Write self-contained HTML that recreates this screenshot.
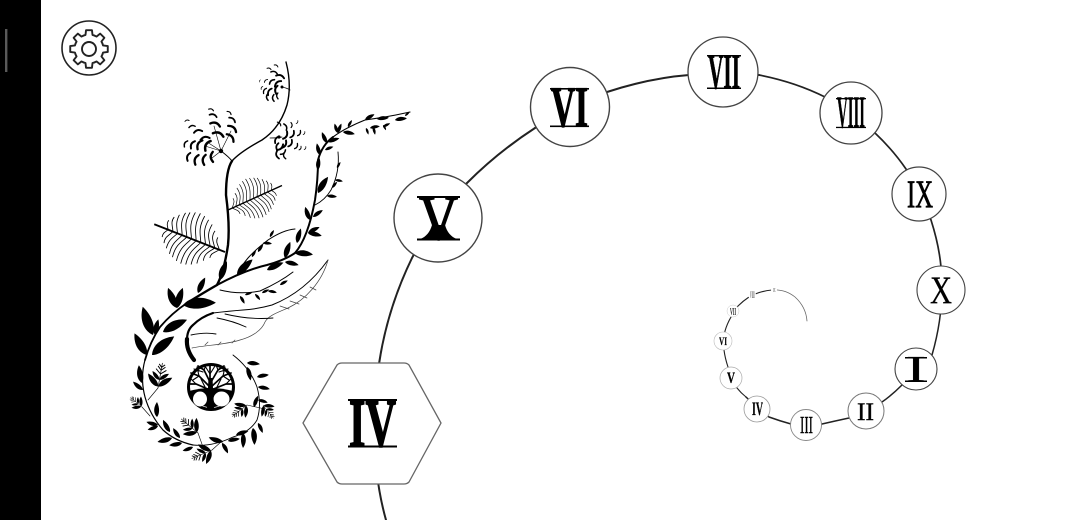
<!DOCTYPE html>
<html><head><meta charset="utf-8"><style>
html,body{margin:0;padding:0;background:#fff}
svg{display:block}
.n{font-family:"Liberation Serif",serif;font-weight:bold;fill:#000;stroke:#000}
.r{font-weight:normal}
</style></head><body>
<svg width="1080" height="520" viewBox="0 0 1080 520" xmlns="http://www.w3.org/2000/svg">
<defs>
<path id="l" d="M0 0C.2 -.22 .6 -.28 1 0C.6 .2 .2 .17 0 0Z" fill="#000"/>
<path id="g" d="M13.4 -5.55L14.07 -3.51L18.77 -2.97L18.77 2.97L14.07 3.51L13.4 5.55" fill="none" stroke="#222" stroke-width="1.9" stroke-linejoin="round" stroke-linecap="round"/>
<path id="c" d="M2 -3.8Q-3.2 -2 -2 3.6" fill="none" stroke="#000" stroke-width="1.9" stroke-linecap="round"/>
<g id="fern" fill="none" stroke="#000" stroke-width=".85">
<path d="M0 0L76 0" stroke-width="1.8"/>
<path d="M6 0c3 -4 7 -6 6 -11M11 0c3 -5 8 -8 6 -16M16 0c3 -6 8 -9 6 -21M21 0c3 -7 8 -11 6 -24M26 0c3 -7 8 -12 6 -26M31 0c3 -7 8 -13 6 -27M36 0c3 -7 8 -12 6 -26M41 0c3 -7 8 -11 6 -24M46 0c3 -7 7 -11 5 -22M51 0c3 -6 6 -9 5 -18M56 0c2 -5 6 -8 4 -14M61 0c2 -3 4 -5 3 -9"/>
<path d="M6 0c3 4 7 6 6 11M11 0c3 5 8 8 6 16M16 0c3 6 8 9 6 21M21 0c3 7 8 11 6 24M26 0c3 7 8 12 6 26M31 0c3 7 8 13 6 27M36 0c3 7 8 12 6 26M41 0c3 7 8 11 6 24M46 0c3 7 7 11 5 22M51 0c3 6 6 9 5 18M56 0c2 5 6 8 4 14M61 0c2 3 4 5 3 9"/>
</g>
<g id="fb">
<path d="M0 0L34 0" fill="none" stroke="#000" stroke-width=".9"/>
<use href="#l" transform="translate(2 0) rotate(-48) scale(22)"/>
<use href="#l" transform="translate(2 0) rotate(48) scale(22)"/>
<use href="#l" transform="translate(11 0) rotate(-48) scale(15)"/>
<use href="#l" transform="translate(11 0) rotate(48) scale(15)"/>
<path d="M19 0l6 -7M19 0l6 7M24 0l5 -5M24 0l5 5M28 0l4 -4M28 0l4 4" fill="none" stroke="#000" stroke-width="1.3"/>
</g>
</defs>
<rect width="1080" height="520" fill="#fff"/>
<rect x="0" y="0" width="41" height="520" fill="#000"/>
<rect x="5" y="29" width="2.4" height="43" fill="#5a5a5a"/>

<!-- gear -->
<circle cx="89" cy="48" r="27" fill="none" stroke="#222" stroke-width="1.6"/>
<g transform="translate(89 49)">
<use href="#g"/><use href="#g" transform="rotate(45)"/><use href="#g" transform="rotate(90)"/><use href="#g" transform="rotate(135)"/><use href="#g" transform="rotate(180)"/><use href="#g" transform="rotate(225)"/><use href="#g" transform="rotate(270)"/><use href="#g" transform="rotate(315)"/>
<circle r="7" fill="none" stroke="#222" stroke-width="1.9"/>
</g>

<!-- plant stems -->
<g fill="none" stroke="#000" stroke-linecap="round">
<path d="M233 355Q250 368 257 387Q262 405 257 420Q250 432 233 437Q212 447 193 445" stroke-width=".9"/>
<path d="M193 445Q175 441 163 430Q150 415 145 397Q140 378 145 360" stroke-width="1.2"/>
<path d="M145 360Q150 342 160 327Q172 313 187 303" stroke-width="1.8"/>
<path d="M187 303Q203 293 217 285Q224 272 228 245Q230 225 226 195Q226 170 232 161" stroke-width="2.4"/>
<path d="M232 161Q240 152 262 140Q280 128 287 105Q292 85 286 62" stroke-width="1.4"/>
<path d="M232 161Q229 157 221 151" stroke-width="1"/>
<path d="M217 285Q245 270 267 265Q285 260 295 253Q308 238 315 200Q318 180 318 160Q322 145 333 137" stroke-width="2"/>
<path d="M333 137Q345 128 365 120Q388 117 410 112" stroke-width="1.1"/>
<path d="M315 205Q325 200 331 190Q340 172 338 152" stroke-width=".9"/>
<path d="M295 229Q283 230 268 240Q255 250 248 258Q243 264 238 272" stroke-width="1"/>
<path d="M293 272Q280 282 260 291Q240 295 220 290" stroke-width="1"/>
<path d="M270 138Q278 138 282 137M282 87Q287 88 290 90" stroke-width=".8"/>
<path d="M221 151L207 142M221 151L214 126M221 151L231 131M221 151L205 146M221 151L212 158" stroke-width=".6"/>
<path d="M158 388L148 400M247 405L265 409M198 433L203 447M142 407L150 416M212 450L222 441" stroke-width=".6"/>
</g>

<!-- feather -->
<g fill="none" stroke-linecap="round">
<path d="M194 360Q186 350 187 339" stroke="#000" stroke-width="4.200"/>
<path d="M187 340Q187 330 193 325Q201 317 213 313" stroke="#000" stroke-width="2.200"/>
<path d="M213 313Q230 311 243 310Q258 309 272 305Q305 292 328 260" stroke="#000" stroke-width="1"/>
<path d="M192 348C205 345 225 345 240 340C252 337 262 330 265 322C268 316 276 313 288 308C305 300 322 282 328 260" stroke="#444" stroke-width=".7"/>
<path d="M217 318Q233 321 246 327M225 314Q250 320 273 318M191 335Q205 332 216 334" stroke="#000" stroke-width=".9"/>
<path d="M280 306l9 3M290 301l9 3M300 295l7 3M310 287l6 3M205 345l3 -3M218 345l3 -3M232 343l3 -3" stroke="#444" stroke-width=".7"/>
</g>

<!-- ferns -->
<use href="#fern" transform="translate(225 252) rotate(201.4)"/>
<use href="#fern" transform="translate(228 210) rotate(-24.4) scale(.78)"/>

<!-- leaves -->
<use href="#l" transform="translate(177 308) rotate(-114) scale(22)"/>
<use href="#l" transform="translate(177 308) rotate(-74) scale(21)"/>
<use href="#l" transform="translate(183 305) rotate(-4) scale(33)"/>
<use href="#l" transform="translate(198 293) rotate(-65) scale(17)"/>
<use href="#l" transform="translate(153 335) rotate(-110) scale(30)"/>
<use href="#l" transform="translate(155 335) rotate(-78) scale(16)"/>
<use href="#l" transform="translate(163 332) rotate(-27) scale(27)"/>
<use href="#l" transform="translate(152 355) rotate(-40) scale(29)"/>
<use href="#l" transform="translate(147 355) rotate(-120) scale(25)"/>
<use href="#l" transform="translate(220 280) rotate(-70) scale(20)"/>
<use href="#l" transform="translate(237 275) rotate(-45) scale(22)"/>
<use href="#l" transform="translate(267 270) rotate(-24) scale(18)"/>
<use href="#l" transform="translate(285 262) rotate(13) scale(14)"/>
<use href="#l" transform="translate(142 383) rotate(-100) scale(18)"/>
<use href="#l" transform="translate(143 390) rotate(-140) scale(13)"/>
<use href="#l" transform="translate(157 417) rotate(-90) scale(15)"/>
<use href="#l" transform="translate(158 425) rotate(195) scale(12)"/>
<use href="#l" transform="translate(158 426) rotate(160) scale(11)"/>
<use href="#l" transform="translate(170 432) rotate(-120) scale(14)"/>
<use href="#l" transform="translate(180 438) rotate(-125) scale(12)"/>
<use href="#l" transform="translate(172 438) rotate(165) scale(15)"/>
<use href="#l" transform="translate(182 443) rotate(170) scale(13)"/>
<use href="#l" transform="translate(193 447) rotate(160) scale(11)"/>
<use href="#l" transform="translate(223 442) rotate(198) scale(15)"/>
<use href="#l" transform="translate(222 443) rotate(60) scale(12)"/>
<use href="#l" transform="translate(228 441) rotate(-10) scale(12)"/>
<use href="#l" transform="translate(243 433) rotate(90) scale(15)"/>
<use href="#l" transform="translate(236 435) rotate(-18) scale(13)"/>
<use href="#l" transform="translate(253 428) rotate(85) scale(17)"/>
<use href="#l" transform="translate(258 423) rotate(65) scale(11)"/>
<use href="#l" transform="translate(254 407) rotate(-70) scale(12)"/>
<use href="#l" transform="translate(258 387) rotate(10) scale(12)"/>
<use href="#l" transform="translate(257 377) rotate(-10) scale(12)"/>
<use href="#l" transform="translate(247 367) rotate(75) scale(14)"/>
<use href="#l" transform="translate(247 363) rotate(5) scale(13)"/>
<use href="#l" transform="translate(258 400) rotate(15) scale(10)"/>
<use href="#l" transform="translate(310 220) rotate(-110) scale(14)"/>
<use href="#l" transform="translate(313 217) rotate(-35) scale(12)"/>
<use href="#l" transform="translate(308 233) rotate(-27) scale(13)"/>
<use href="#l" transform="translate(308 233) rotate(12) scale(14)"/>
<use href="#l" transform="translate(297 243) rotate(-75) scale(15)"/>
<use href="#l" transform="translate(295 253) rotate(5) scale(18)"/>
<use href="#l" transform="translate(285 258) rotate(-72) scale(17)"/>
<use href="#l" transform="translate(318 193) rotate(-58) scale(19)"/>
<use href="#l" transform="translate(318 170) rotate(-85) scale(13)"/>
<use href="#l" transform="translate(320 155) rotate(-105) scale(12)"/>
<use href="#l" transform="translate(325 150) rotate(-22) scale(9)"/>
<use href="#l" transform="translate(327 143) rotate(-115) scale(12)"/>
<use href="#l" transform="translate(328 142) rotate(-18) scale(12)"/>
<use href="#l" transform="translate(338 133) rotate(-110) scale(10)"/>
<use href="#l" transform="translate(338 133) rotate(-70) scale(10)"/>
<use href="#l" transform="translate(343 132) rotate(10) scale(12)"/>
<use href="#l" transform="translate(348 127) rotate(-60) scale(8)"/>
<use href="#l" transform="translate(365 120) rotate(-31) scale(11)"/>
<use href="#l" transform="translate(377 119) rotate(-6) scale(12)"/>
<use href="#l" transform="translate(366 128) rotate(70) scale(7)"/>
<use href="#l" transform="translate(373 127) rotate(75) scale(8)"/>
<use href="#l" transform="translate(383 125) rotate(60) scale(6)"/>
<use href="#l" transform="translate(370 128) rotate(-10) scale(10)"/>
<use href="#l" transform="translate(383 127) rotate(-27) scale(8)"/>
<use href="#l" transform="translate(395 120) rotate(-8) scale(12)"/>
<use href="#l" transform="translate(405 116) rotate(-40) scale(6)"/>
<use href="#l" transform="translate(332 188) rotate(-50) scale(8)"/>
<use href="#l" transform="translate(335 180) rotate(10) scale(8)"/>
<use href="#l" transform="translate(337 168) rotate(-60) scale(7)"/>
<use href="#l" transform="translate(327 196) rotate(5) scale(10)"/>
<use href="#l" transform="translate(258 252) rotate(-55) scale(9)"/>
<use href="#l" transform="translate(263 243) rotate(5) scale(9)"/>
<use href="#l" transform="translate(270 237) rotate(-60) scale(8)"/>
<use href="#l" transform="translate(252 257) rotate(-60) scale(8)"/>
<use href="#l" transform="translate(280 285) rotate(-30) scale(9)"/>
<use href="#l" transform="translate(268 291) rotate(10) scale(9)"/>
<use href="#l" transform="translate(262 293) rotate(-25) scale(8)"/>
<use href="#l" transform="translate(255 294) rotate(50) scale(8)"/>
<use href="#l" transform="translate(245 295) rotate(-20) scale(8)"/>
<use href="#l" transform="translate(240 296) rotate(60) scale(9)"/>

<!-- small fishbones -->
<use href="#fb" transform="translate(158 388) rotate(-80) scale(.75)"/>
<use href="#fb" transform="translate(247 405) rotate(142) scale(.55)"/>
<use href="#fb" transform="translate(198 433) rotate(-140) scale(.65)"/>
<use href="#fb" transform="translate(142 407) rotate(-140) scale(.45)"/>
<use href="#fb" transform="translate(263 405) rotate(52) scale(.5)"/>
<use href="#fb" transform="translate(212 450) rotate(157) scale(.65)"/>

<!-- flowers -->
<g id="fl">
<use href="#c" transform="translate(187 121) rotate(50) scale(.5)"/><use href="#c" transform="translate(192 127) rotate(50) scale(.75)"/><use href="#c" transform="translate(198 132) rotate(50)"/><use href="#c" transform="translate(205 139) rotate(50) scale(1.1)"/>
<use href="#c" transform="translate(211 110) rotate(80) scale(.6)"/><use href="#c" transform="translate(213 116) rotate(80) scale(.9)"/><use href="#c" transform="translate(215 125) rotate(80) scale(1.2)"/><use href="#c" transform="translate(218 135) rotate(80) scale(1.3)"/>
<use href="#c" transform="translate(229 113) rotate(100) scale(.6)"/><use href="#c" transform="translate(232 120) rotate(100) scale(.9)"/><use href="#c" transform="translate(232 129) rotate(100) scale(1.2)"/><use href="#c" transform="translate(230 138) rotate(110) scale(1.2)"/>
<use href="#c" transform="translate(186 144) scale(.8)"/><use href="#c" transform="translate(193 145) scale(1)"/><use href="#c" transform="translate(200 145) scale(1.2)"/><use href="#c" transform="translate(208 146) scale(1.3)"/>
<use href="#c" transform="translate(189 157) rotate(-10)"/><use href="#c" transform="translate(197 160) rotate(-10) scale(1.2)"/><use href="#c" transform="translate(205 160) rotate(-20) scale(1.2)"/><use href="#c" transform="translate(213 157) rotate(-30) scale(1.2)"/>
<circle cx="221" cy="151" r="2.2" fill="#000"/>
<use href="#c" transform="translate(269 69) rotate(80) scale(.5)"/><use href="#c" transform="translate(274 73) rotate(80) scale(.8)"/><use href="#c" transform="translate(280 77) rotate(80) scale(1)"/>
<use href="#c" transform="translate(266 81) rotate(20) scale(.5)"/><use href="#c" transform="translate(272 82) rotate(20) scale(.8)"/><use href="#c" transform="translate(278 84) rotate(20) scale(1)"/>
<use href="#c" transform="translate(265 91) scale(.7)"/><use href="#c" transform="translate(270 92) scale(.9)"/><use href="#c" transform="translate(277 90) rotate(-20)"/>
<use href="#c" transform="translate(268 97) rotate(-30) scale(.8)"/><use href="#c" transform="translate(274 98) rotate(-30) scale(.8)"/><use href="#c" transform="translate(278 96) rotate(-30) scale(.7)"/>
<use href="#c" transform="translate(260 81) scale(.3)"/><use href="#c" transform="translate(262 88) scale(.4)"/><use href="#c" transform="translate(276 66) rotate(90) scale(.5)"/>
<circle cx="282" cy="87" r="1.5" fill="#000"/>
<use href="#c" transform="translate(280 147) rotate(200) scale(1)"/><use href="#c" transform="translate(283 152) rotate(200) scale(.8)"/><use href="#c" transform="translate(278 155) rotate(-45) scale(.9)"/><use href="#c" transform="translate(285 156) rotate(-45) scale(.7)"/>
<use href="#c" transform="translate(284 144) rotate(180)"/><use href="#c" transform="translate(290 143) rotate(180) scale(.9)"/><use href="#c" transform="translate(296 146) rotate(180) scale(.7)"/><use href="#c" transform="translate(300 148) rotate(180) scale(.5)"/><use href="#c" transform="translate(305 148) rotate(180) scale(.4)"/>
<use href="#c" transform="translate(285 135) rotate(180)"/><use href="#c" transform="translate(292 134) rotate(180) scale(.9)"/><use href="#c" transform="translate(299 133) rotate(180) scale(.7)"/><use href="#c" transform="translate(304 133) rotate(180) scale(.4)"/>
<use href="#c" transform="translate(285 127) rotate(130) scale(.8)"/><use href="#c" transform="translate(291 125) rotate(150) scale(.6)"/><use href="#c" transform="translate(297 122) rotate(180) scale(.4)"/><use href="#c" transform="translate(279 124) rotate(110) scale(.6)"/>
<use href="#c" transform="translate(278 147) rotate(-20) scale(.9)"/><use href="#c" transform="translate(277 140) scale(.9)"/>
<circle cx="279" cy="137" r="1.6" fill="#000"/>
</g>

<!-- tree -->
<circle cx="211" cy="387" r="22.500" fill="#fff" stroke="#000" stroke-width="3"/>
<path d="M189 391Q211 385 233 391A23 23 0 0 1 189 391Z" fill="#000"/>
<ellipse cx="200" cy="399" rx="7" ry="7.500" fill="#fff"/>
<ellipse cx="221.500" cy="399" rx="8" ry="7.500" fill="#fff"/>
<path d="M207 408L208.500 378L212.500 378L214 408Z" fill="#000"/>
<g fill="none" stroke="#000" stroke-linecap="round">
<path d="M210 387L199 376L191 373M211 387L223 376L231 373M210 382L204 370L198 366M211 382L218 370L224 366M210 382L210 365M210 390L196 384L190 384M211 390L226 384L232 384" stroke-width="1.7"/>
<path d="M199 376L193 380M223 376L229 380M204 370L206 365M218 370L216 365M203 372L194 369M219 372L228 369M205 387L201 379M217 387L221 379M210 374L205 366M210 374L215 366M196 384L191 379M226 384L231 379M199 376L197 367M223 376L225 367" stroke-width="1.100"/>
</g>

<!-- spiral line -->
<g fill="none" stroke="#222" stroke-linecap="round">
<path d="M386 520Q372 470 375 410Q377 330 412 258Q435 215 467 183Q498 152 535 128Q570 105 607 92Q650 78 689 75Q725 71 759 75" stroke-width="2"/>
<path d="M759 75Q795 82 825 97Q855 113 875 133Q893 150 906 169Q921 195 931 220Q939 245 941 267" stroke-width="1.7"/>
<path d="M941 267Q945 310 932 355Q920 375 902 385Q892 395 882 402Q865 412 849 418Q835 421 822 424Q805 426 791 424Q780 421 769 417Q757 408 746 397" stroke-width="1.5"/>
<path d="M746 397Q741 393 737 388Q731 378 728 367Q725 358 724 350Q723 340 725 331Q727 324 731 317Q734 311 738 306Q743 301 749 297Q760 291 772 290" stroke-width="1.1"/>
<path d="M772 290Q785 289 795 297Q806 307 807 321" stroke-width=".8" stroke="#666"/>
</g>

<!-- nodes -->
<g fill="#fff" stroke="#444">
<path d="M303 423L337 365Q339 363 342 363L404 363Q407 363 409 365L441 423L409 482Q407 484 404 484L342 484Q339 484 337 482Z" stroke-width="1.3" stroke="#666"/>
<circle cx="438" cy="218" r="44" stroke-width="1.4"/>
<circle cx="570" cy="107" r="39.500" stroke-width="1.4"/>
<circle cx="723" cy="72" r="35" stroke-width="1.3"/>
<circle cx="851" cy="113" r="31" stroke-width="1.3"/>
<circle cx="919" cy="194" r="27" stroke-width="1.2"/>
<circle cx="941" cy="290" r="24" stroke-width="1.1"/>
<circle cx="916" cy="369" r="21" stroke-width="1.1"/>
<circle cx="866" cy="411" r="18" stroke-width="1" stroke="#777"/>
<circle cx="806" cy="425" r="15.500" stroke-width=".9" stroke="#888"/>
<circle cx="757" cy="409" r="13" stroke-width=".8" stroke="#999"/>
<circle cx="731" cy="378" r="11" stroke-width=".7" stroke="#aaa"/>
<circle cx="723" cy="341" r="9" stroke-width=".6" stroke="#bbb"/>
<circle cx="733" cy="311" r="6" stroke-width=".5" stroke="#ccc"/>
<circle cx="752" cy="295" r="4" stroke="none"/>
<circle cx="774" cy="290" r="3" stroke="none"/>
</g>

<!-- numerals -->
<text class="n" x="349" y="446" font-size="68" textLength="47" lengthAdjust="spacingAndGlyphs" stroke-width="1.5">IV</text>
<rect x="348" y="445.500" width="49" height="2" fill="#000"/><rect x="348" y="399" width="49" height="2" fill="#000"/>
<text class="n r" x="419" y="239" font-size="63" textLength="39" lengthAdjust="spacingAndGlyphs" stroke-width="1.5">V</text>
<rect x="417" y="238.500" width="43" height="2" fill="#000"/><rect x="417" y="196" width="43" height="2" fill="#000"/>
<path d="M432 225L445 225C447 232 451 237 457 239L420 239C426 237 430 232 432 225Z" fill="#000"/>
<text class="n" x="551" y="126" font-size="57" textLength="37" lengthAdjust="spacingAndGlyphs" stroke-width="1.2">VI</text>
<rect x="550" y="125.500" width="39" height="1.600" fill="#000"/><rect x="550" y="88" width="39" height="1.600" fill="#000"/>
<text class="n" x="708" y="88" font-size="50" textLength="32" lengthAdjust="spacingAndGlyphs" stroke-width=".7">VII</text>
<rect x="707" y="87.500" width="34" height="1.500" fill="#000"/><rect x="707" y="55" width="34" height="1.500" fill="#000"/>
<text class="n" x="837" y="127.500" font-size="45" textLength="28" lengthAdjust="spacingAndGlyphs" stroke-width=".5">VIII</text>
<rect x="836" y="126.800" width="30" height="1.300" fill="#000"/><rect x="836" y="98" width="30" height="1.300" fill="#000"/>
<text class="n r" x="907" y="207" font-size="39" textLength="26" lengthAdjust="spacingAndGlyphs" stroke-width=".8">IX</text>
<text class="n r" x="930" y="303" font-size="39" textLength="22" lengthAdjust="spacingAndGlyphs" stroke-width=".3">X</text>
<text class="n r" x="906" y="381.500" font-size="37" textLength="20" lengthAdjust="spacingAndGlyphs" stroke-width=".3">I</text>
<rect x="905" y="380.500" width="22" height="1.500" fill="#000"/><rect x="905" y="357" width="22" height="1.500" fill="#000"/>
<text class="n r" x="857" y="420" font-size="25" textLength="17" lengthAdjust="spacingAndGlyphs" stroke-width=".4">II</text>
<text class="n r" x="800" y="433" font-size="24" textLength="13" lengthAdjust="spacingAndGlyphs" stroke-width=".4">III</text>
<text class="n" x="752" y="415" font-size="19" textLength="11" lengthAdjust="spacingAndGlyphs" stroke-width=".3">IV</text>
<text class="n" x="727" y="383" font-size="16" textLength="8" lengthAdjust="spacingAndGlyphs" stroke-width=".3">V</text>
<text class="n" x="719" y="345" font-size="12" textLength="8" lengthAdjust="spacingAndGlyphs" stroke-width=".2">VI</text>
<text class="n" x="730" y="315" font-size="10.500" textLength="6" lengthAdjust="spacingAndGlyphs" stroke-width=".1" fill-opacity=".8">VII</text>
<text class="n" x="750" y="298" font-size="9" textLength="4.500" lengthAdjust="spacingAndGlyphs" stroke-width="0" fill-opacity=".7">VIII</text>
<text class="n" x="773" y="292" font-size="6" textLength="2.500" lengthAdjust="spacingAndGlyphs" stroke-width="0" fill-opacity=".6">IX</text>
</svg>
</body></html>
